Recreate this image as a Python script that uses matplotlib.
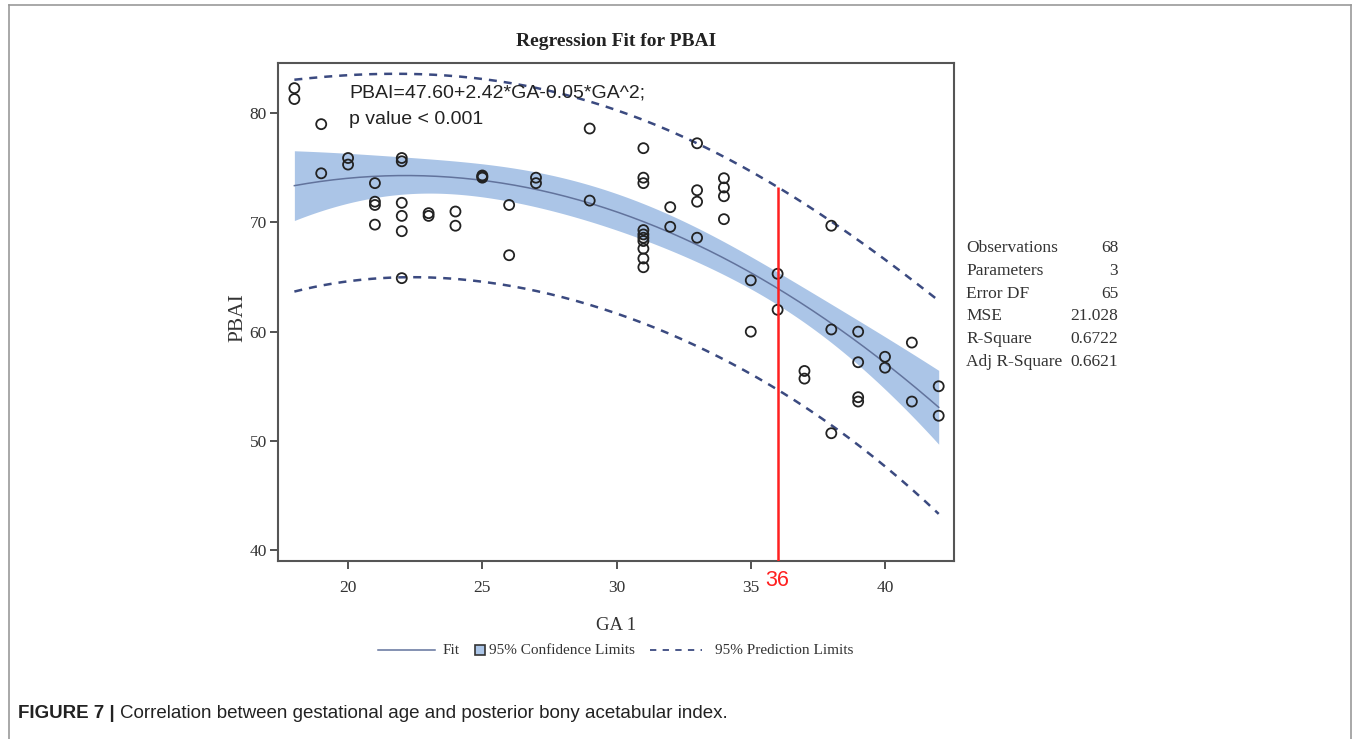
import numpy as np
import matplotlib
matplotlib.use("Agg")
import matplotlib.pyplot as plt
from matplotlib.lines import Line2D
from matplotlib.patches import Rectangle

# ---------------- data ----------------
ga = [18, 18, 19, 19, 20, 20, 21, 21, 21, 21,
      22, 22, 22, 22, 22, 22, 23, 23, 24, 24,
      25, 25, 25, 26, 26, 27, 27, 29, 29,
      31, 31, 31, 31, 31, 31, 31, 31, 31, 31,
      32, 32, 33, 33, 33, 33, 34, 34, 34, 34,
      35, 35, 36, 36, 37, 37, 38, 38, 38,
      39, 39, 39, 39, 40, 40, 41, 41, 42, 42]
pbai = [82.3, 81.3, 79.0, 74.5, 75.9, 75.3, 73.6, 71.9, 71.6, 69.8,
        75.9, 75.6, 71.8, 70.6, 69.2, 64.9, 70.85, 70.6, 71.0, 69.7,
        74.3, 74.2, 74.1, 71.6, 67.0, 74.1, 73.6, 78.6, 72.0,
        76.8, 74.1, 73.6, 69.3, 68.9, 68.6, 68.3, 67.6, 66.7, 65.9,
        71.4, 69.6, 77.25, 72.95, 71.9, 68.6, 74.05, 73.2, 72.4, 70.3,
        64.7, 60.0, 65.3, 62.0, 56.4, 55.7, 69.7, 60.2, 50.7,
        60.0, 57.2, 54.0, 53.6, 57.7, 56.7, 59.0, 53.6, 55.0, 52.3]

stat_labels = ["Observations", "Parameters", "Error DF", "MSE", "R-Square", "Adj R-Square"]
stat_values = ["68", "3", "65", "21.028", "0.6722", "0.6621"]
mse = 21.028
t_crit = 1.997  # t(0.975, df=65)

equation_text = "PBAI=47.60+2.42*GA-0.05*GA^2;"
pvalue_text = "p value < 0.001"
cutoff_ga = 36

x_ticks = [20, 25, 30, 35, 40]
y_ticks = [40, 50, 60, 70, 80]

# ---------------- regression ----------------
x = np.array(ga, dtype=float)
y = np.array(pbai, dtype=float)
X = np.column_stack([np.ones_like(x), x, x ** 2])
beta, *_ = np.linalg.lstsq(X, y, rcond=None)
XtX_inv = np.linalg.inv(X.T @ X)

xg = np.linspace(min(ga), max(ga), 200)
Xg = np.column_stack([np.ones_like(xg), xg, xg ** 2])
fit = Xg @ beta
h = np.einsum("ij,jk,ik->i", Xg, XtX_inv, Xg)
ci = t_crit * np.sqrt(mse * h)
pi = t_crit * np.sqrt(mse * (1 + h))

xc = np.array([1.0, cutoff_ga, cutoff_ga ** 2])
pi_top_cut = xc @ beta + t_crit * np.sqrt(mse * (1 + xc @ XtX_inv @ xc))

# ---------------- figure ----------------
W, H = 1360, 739
fig = plt.figure(figsize=(W / 100, H / 100), dpi=100)


def fx(px):
    return px / W


def fy(py):
    return 1 - py / H


ax = fig.add_axes([fx(278), fy(561), fx(954) - fx(278), fy(63) - fy(561)])
ax.set_xlim(17.39, 42.57)
ax.set_ylim(39.0, 84.6)

serif = ["Liberation Serif", "DejaVu Serif"]
sans = ["Liberation Sans", "DejaVu Sans"]

band_col = "#abc5e7"
fit_col = "#62739c"
pred_col = "#3b4a80"

ax.fill_between(xg, fit - ci, fit + ci, color=band_col, lw=0, zorder=1)
ax.plot(xg, fit, color=fit_col, lw=1.1, zorder=2)
ax.plot(xg, fit + pi, color=pred_col, lw=1.8, ls=(0, (3.2, 2.8)), zorder=2)
ax.plot(xg, fit - pi, color=pred_col, lw=1.8, ls=(0, (3.2, 2.8)), zorder=2)
ax.scatter(ga, pbai, s=52, facecolors="none", edgecolors="#222222", linewidths=1.3, zorder=3)

ax.vlines(cutoff_ga, 39.0, pi_top_cut, color="#ff2020", lw=1.8, zorder=4)

for s in ax.spines.values():
    s.set_color("#555555")
    s.set_linewidth(1.5)
ax.set_xticks(x_ticks)
ax.set_yticks(y_ticks)
ax.tick_params(direction="out", length=6, width=1.3, color="#444444",
               labelsize=12.5, labelcolor="#333333")
ax.tick_params(axis="x", pad=8)
ax.tick_params(axis="y", pad=2)
for lab in ax.get_xticklabels() + ax.get_yticklabels():
    lab.set_family(serif)

ax.text(cutoff_ga, 39.0 - 0.85, str(cutoff_ga), color="#ff2020", fontsize=15.5,
        family=sans, ha="center", va="top")

fig.text(fx(349), fy(93), equation_text, fontsize=14, family=sans,
         color="#222222", ha="left", va="center")
fig.text(fx(349), fy(120), pvalue_text, fontsize=14, family=sans,
         color="#222222", ha="left", va="center")

# titles / labels
fig.text(fx(616), fy(42), "Regression Fit for PBAI", fontsize=14, fontweight="bold",
         family=serif, ha="center", va="center", color="#222222")
fig.text(fx(238), fy(318), "PBAI", fontsize=15.5, family=serif, rotation=90,
         ha="center", va="center", color="#333333")
fig.text(fx(616), fy(625), "GA 1", fontsize=13.5, family=serif,
         ha="center", va="center", color="#333333")

# stats table
row_y0, row_dy = 248, 22.8
for i, (lab, val) in enumerate(zip(stat_labels, stat_values)):
    yy = fy(row_y0 + i * row_dy)
    fig.text(fx(966), yy, lab, fontsize=12.5, family=serif, ha="left", va="center", color="#333333")
    fig.text(fx(1118), yy, val, fontsize=12.5, family=serif, ha="right", va="center", color="#333333")

# legend (manual)
ly = fy(650)
fig.add_artist(Line2D([fx(378), fx(435)], [ly, ly], color=fit_col, lw=1.1))
fig.text(fx(443), ly, "Fit", fontsize=11, family=serif, ha="left", va="center", color="#333333")
fig.add_artist(Rectangle((fx(475), fy(655)), fx(10), 10 / H, facecolor=band_col,
                         edgecolor="#333333", lw=1.2))
fig.text(fx(489), ly, "95% Confidence Limits", fontsize=11, family=serif, ha="left",
         va="center", color="#333333")
fig.add_artist(Line2D([fx(650), fx(702)], [ly, ly], color=pred_col, lw=1.3, ls=(0, (3.5, 3.5))))
fig.text(fx(715), ly, "95% Prediction Limits", fontsize=11, family=serif, ha="left",
         va="center", color="#333333")

# caption
cap_family = ["Liberation Sans", "DejaVu Sans"]
t_bold = fig.text(fx(18), fy(713), "FIGURE 7 |", fontsize=13.5, fontweight="bold",
                  family=cap_family, ha="left", va="center", color="#222222")
fig.canvas.draw()
bb = t_bold.get_window_extent(renderer=fig.canvas.get_renderer())
fig.text(bb.x1 / W + fx(5), fy(713),
         "Correlation between gestational age and posterior bony acetabular index.",
         fontsize=13.5, family=cap_family, ha="left", va="center", color="#222222")

# outer frame
fig.add_artist(Line2D([fx(9), fx(9)], [fy(5), 0], color="#999999", lw=1.2))
fig.add_artist(Line2D([fx(9), fx(1351)], [fy(5), fy(5)], color="#999999", lw=1.2))
fig.add_artist(Line2D([fx(1351), fx(1351)], [fy(5), 0], color="#999999", lw=1.2))

fig.savefig("out.png", dpi=100)
